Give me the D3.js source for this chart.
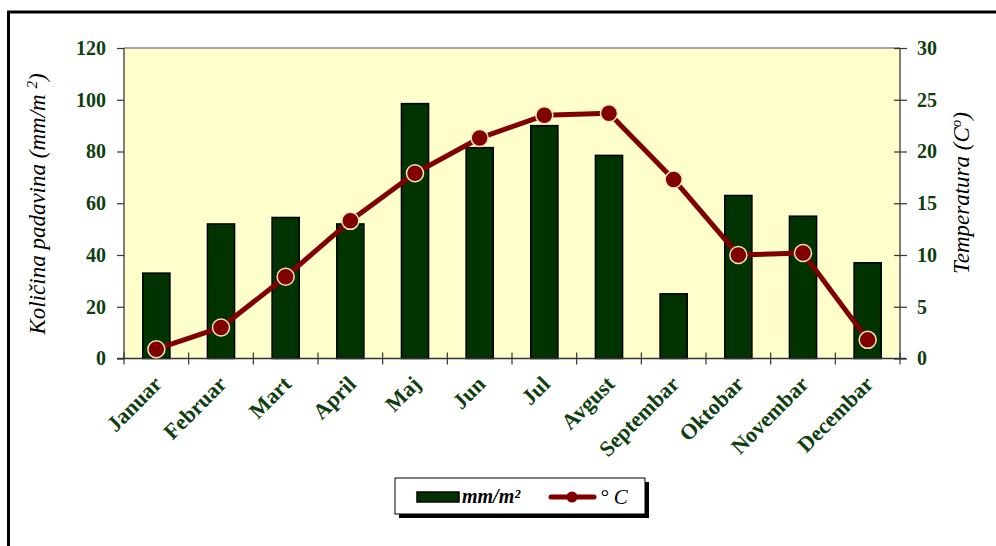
<!DOCTYPE html>
<html>
<head>
<meta charset="utf-8">
<title>Padavine i temperatura</title>
<style>
body { margin: 0; background: white; font-family: "Liberation Serif", "Times New Roman", serif; }
svg { display: block; }
.tick text { fill: #0f3f10; font-weight: bold; font-size: 20px; font-family: "Liberation Serif", serif; }
.axis .domain { stroke: #555; stroke-width: 1.5px; }
.axis .tick line { stroke: #333; stroke-width: 1.2px; }
.bar { fill: #003300; stroke: #000; stroke-width: 1.5px; }
.temp-line { fill: none; stroke: #800000; stroke-width: 5px; stroke-linejoin: round; }
.dot { fill: #800000; stroke: #f3e6b8; stroke-width: 1.5px; }
.title { font-style: italic; font-size: 23px; fill: #000; font-family: "Liberation Serif", serif; }
</style>
</head>
<body>
<svg id="chart" width="996" height="546"></svg>
<script src="https://cdn.jsdelivr.net/npm/d3@7"></script>
<script>

var months = ["Januar", "Februar", "Mart", "April", "Maj", "Jun", "Jul", "Avgust", "Septembar", "Oktobar", "Novembar", "Decembar"];
var rain = [33, 52, 54.5, 52, 98.5, 81.5, 90, 78.5, 25, 63, 55, 37];
var temp = [0.9, 3.0, 7.9, 13.3, 17.9, 21.3, 23.5, 23.7, 17.3, 10.0, 10.2, 1.8];
var rainTicks = [0, 20, 40, 60, 80, 100, 120];
var tempTicks = [0, 5, 10, 15, 20, 25, 30];

var svg = d3.select("#chart");

// outer frame, runs past the picture on right and bottom
svg.append("rect")
    .attr("x", 8.5).attr("y", 12)
    .attr("width", 1100).attr("height", 700)
    .attr("fill", "white")
    .attr("stroke", "#000")
    .attr("stroke-width", 3);

var pLeft = 124, pRight = 900, pTop = 48, pBottom = 358.5;

var x = d3.scaleBand()
    .domain(months)
    .range([pLeft, pRight])
    .paddingInner(0.58)
    .paddingOuter(0.29);
var xTicks = d3.scaleBand().domain(months).range([pLeft, pRight]);

var yRain = d3.scaleLinear().domain([0, 120]).range([pBottom, pTop]);
var yTemp = d3.scaleLinear().domain([0, 30]).range([pBottom, pTop]);

// plot area
svg.append("rect")
    .attr("x", pLeft).attr("y", pTop)
    .attr("width", pRight - pLeft).attr("height", pBottom - pTop)
    .attr("fill", "#ffffcc");
svg.append("line")
    .attr("x1", pLeft).attr("x2", pRight)
    .attr("y1", pTop).attr("y2", pTop)
    .attr("stroke", "#888").attr("stroke-width", 1.5);

// bars
svg.selectAll(".bar")
    .data(rain)
  .enter().append("rect")
    .attr("class", "bar")
    .attr("x", function(d, i) { return x(months[i]); })
    .attr("y", function(d) { return yRain(d); })
    .attr("width", x.bandwidth())
    .attr("height", function(d) { return pBottom - yRain(d); });

// axes
var yLeftAxis = d3.axisLeft(yRain).tickValues(rainTicks).tickSize(7).tickPadding(11);
svg.append("g")
    .attr("class", "axis")
    .attr("transform", "translate(" + pLeft + ",0)")
    .call(yLeftAxis)
    .call(function(g) { g.select(".domain").attr("d", "M0," + pTop + "V" + pBottom); });

var yRightAxis = d3.axisRight(yTemp).tickValues(tempTicks).tickSize(7).tickPadding(10);
svg.append("g")
    .attr("class", "axis")
    .attr("transform", "translate(" + pRight + ",0)")
    .call(yRightAxis)
    .call(function(g) {
      g.select(".domain").attr("d", "M0," + pTop + "V" + pBottom);
      g.selectAll(".tick line").attr("x1", -6);
      g.selectAll(".tick text").attr("text-anchor", "start");
    });

// bottom axis line with crossing ticks at category boundaries
var xAxisG = svg.append("g").attr("class", "axis");
xAxisG.append("line")
    .attr("x1", pLeft - 7).attr("x2", pRight + 6)
    .attr("y1", pBottom).attr("y2", pBottom)
    .attr("stroke", "#333").attr("stroke-width", 1.5);
xAxisG.selectAll(".xt")
    .data(months.concat(["end"]))
  .enter().append("line")
    .attr("x1", function(d, i) { return i < months.length ? xTicks(d) : pRight; })
    .attr("x2", function(d, i) { return i < months.length ? xTicks(d) : pRight; })
    .attr("y1", pBottom - 6).attr("y2", pBottom + 6)
    .attr("stroke", "#333").attr("stroke-width", 1.2);

xAxisG.selectAll(".xlab")
    .data(months)
  .enter().append("text")
    .attr("class", "xlab")
    .attr("transform", function(d) {
      return "translate(" + (xTicks(d) + xTicks.bandwidth() / 2 - 4) + "," + (pBottom + 16) + ") rotate(-45)";
    })
    .attr("text-anchor", "end")
    .attr("dy", "0.7em")
    .style("font-weight", "bold")
    .style("font-size", "22px")
    .style("fill", "#0f3f10")
    .text(function(d) { return d; });

// temperature line
var line = d3.line()
    .x(function(d, i) { return x(months[i]) + x.bandwidth() / 2; })
    .y(function(d) { return yTemp(d); });
svg.append("path")
    .datum(temp)
    .attr("class", "temp-line")
    .attr("d", line);
svg.selectAll(".dot")
    .data(temp)
  .enter().append("circle")
    .attr("class", "dot")
    .attr("cx", function(d, i) { return x(months[i]) + x.bandwidth() / 2; })
    .attr("cy", function(d) { return yTemp(d); })
    .attr("r", 8.5);

// axis titles
var lt = svg.append("text")
    .attr("class", "title")
    .attr("transform", "translate(45,204) rotate(-90)")
    .attr("text-anchor", "middle");
lt.append("tspan").text("Količina padavina (mm/m ");
lt.append("tspan").attr("baseline-shift", "super").style("font-size", "15px").text("2");
lt.append("tspan").text(")");

var rt = svg.append("text")
    .attr("class", "title")
    .attr("transform", "translate(969,193) rotate(-90)")
    .attr("text-anchor", "middle");
rt.append("tspan").text("Temperatura (C");
rt.append("tspan").attr("baseline-shift", "super").style("font-size", "15px").text("o");
rt.append("tspan").text(")");

// legend
var lg = svg.append("g");
lg.append("rect")
    .attr("x", 399).attr("y", 482).attr("width", 250).attr("height", 36)
    .attr("fill", "#000");
lg.append("rect")
    .attr("x", 395).attr("y", 478).attr("width", 250).attr("height", 36)
    .attr("fill", "white").attr("stroke", "#000").attr("stroke-width", 1);
lg.append("rect")
    .attr("x", 417).attr("y", 492).attr("width", 42).attr("height", 10)
    .attr("class", "bar");
lg.append("text")
    .attr("x", 462).attr("y", 503)
    .style("font-style", "italic").style("font-weight", "bold").style("font-size", "20px")
    .text("mm/m²");
lg.append("line")
    .attr("x1", 551).attr("x2", 594).attr("y1", 497).attr("y2", 497)
    .attr("stroke", "#800000").attr("stroke-width", 5).attr("stroke-linecap", "round");
lg.append("circle")
    .attr("cx", 572).attr("cy", 497).attr("r", 5.5)
    .attr("fill", "#800000");
lg.append("text")
    .attr("x", 600).attr("y", 504)
    .style("font-style", "italic").style("font-size", "21px")
    .text("° C");

</script>
</body>
</html>
